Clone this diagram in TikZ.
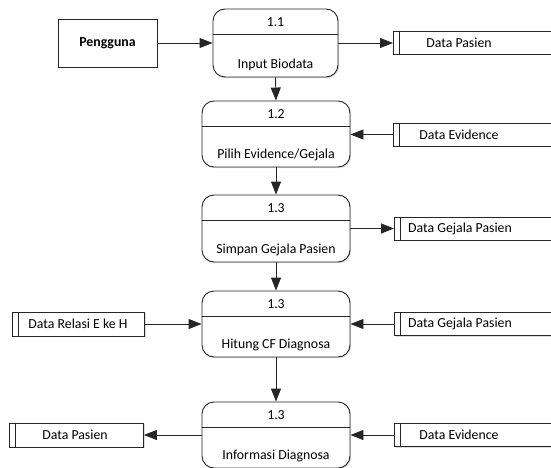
\documentclass[tikz,border=0pt]{standalone}
\usepackage{fontspec}
\setmainfont{Carlito}
\usetikzlibrary{arrows.meta,shadows,calc}
\begin{document}
\begin{tikzpicture}[x=1pt,y=-1pt,
  font=\fontsize{13.8}{16}\selectfont,
  line width=0.9pt,
  shd/.style={drop shadow={shadow xshift=1.2pt,shadow yshift=-1.2pt,fill=black!22,opacity=0.6}},
  proc/.style={draw=black!85, rounded corners=12pt, fill=white, inner sep=0pt, shd},
  ext/.style={draw=black!85, fill=white, inner sep=0pt, shd},
  store/.style={draw=black!85, fill=white, inner sep=0pt, shd},
  lbl/.style={inner sep=0pt, text=black},
  flow/.style={draw=black!85, -{Triangle[length=13pt,width=10pt]}}
]
\useasboundingbox (0,0) rectangle (551,468);
\clip (0,0) rectangle (551,468);

% external entity
\node[ext, minimum width=99pt, minimum height=48pt] (user) at (107.5,43) {};
\node[lbl, font=\fontsize{13.8}{16}\selectfont\bfseries] (userlbl) at (user.center) {Pengguna};

% processes
\node[proc, minimum width=125pt, minimum height=68pt] (p1) at (275.5,43) {};
\node[proc, minimum width=148pt, minimum height=66pt] (p2) at (276,134) {};
\node[proc, minimum width=148pt, minimum height=67pt] (p3) at (276,228.5) {};
\node[proc, minimum width=148pt, minimum height=66pt] (p4) at (276,324) {};
\node[proc, minimum width=148pt, minimum height=66pt] (p5) at (276,435) {};

\foreach \p/\n/\t in {p1/1.1/Input Biodata, p2/1.2/Pilih Evidence\slash Gejala, p3/1.3/Simpan Gejala Pasien, p4/1.3/Hitung CF Diagnosa, p5/1.3/Informasi Diagnosa}{
  \draw[black!85] ($(\p.north west)+(0,26)$) -- ($(\p.north east)+(0,26)$);
  \node[lbl] (\p num) at ($(\p.north)+(0,14)$) {\n};
  \node[lbl] (\p name) at ($(\p.south)+(0,-13)$) {\t};
}

% data stores (right, open past edge)
\node[store, minimum width=180pt, minimum height=23pt, anchor=west] (s1) at (393,42.5) {};
\node[store, minimum width=180pt, minimum height=23pt, anchor=west] (s2) at (393,134.5) {};
\node[store, minimum width=180pt, minimum height=23pt, anchor=west] (s3) at (394,228.5) {};
\node[store, minimum width=180pt, minimum height=23pt, anchor=west] (s4) at (394,324) {};
\node[store, minimum width=180pt, minimum height=23pt, anchor=west] (s5) at (394,435) {};
% data stores (left)
\node[store, minimum width=132pt, minimum height=24pt, anchor=west] (l1) at (12,324) {};
\node[store, minimum width=134pt, minimum height=24pt, anchor=west] (l2) at (9,435) {};

\foreach \s in {s1,s2,s3,s4,s5,l1,l2}{
  \draw[black!85] ($(\s.north west)+(6,0)$) -- ($(\s.south west)+(6,0)$);
}

\node[lbl] (s1t) at (459,42.5) {Data Pasien};
\node[lbl] (s2t) at (459,134.5) {Data Evidence};
\node[lbl] (s3t) at (460,228.5) {Data Gejala Pasien};
\node[lbl] (s4t) at (460,324) {Data Gejala Pasien};
\node[lbl] (s5t) at (459,435) {Data Evidence};
\node[lbl] (l1t) at (78,324) {Data Relasi E ke H};
\node[lbl] (l2t) at (75,435) {Data Pasien};

% flows
\draw[flow] (user.east) -- (p1.west |- user.east);
\draw[flow] (p1.east) -- (s1.west |- p1.east);
\draw[flow] (p1.south) -- (p2.north);
\draw[flow] (s2.west) -- (p2.east |- s2.west);
\draw[flow] (p2.south) -- (p3.north);
\draw[flow] (p3.east) -- (s3.west |- p3.east);
\draw[flow] (p3.south) -- (p4.north);
\draw[flow] (l1.east) -- (p4.west |- l1.east);
\draw[flow] (s4.west) -- (p4.east |- s4.west);
\draw[flow] (p4.south) -- (p5.north);
\draw[flow] (p5.west |- l2.east) -- (l2.east);
\draw[flow] (s5.west) -- (p5.east |- s5.west);
\end{tikzpicture}
\end{document}
